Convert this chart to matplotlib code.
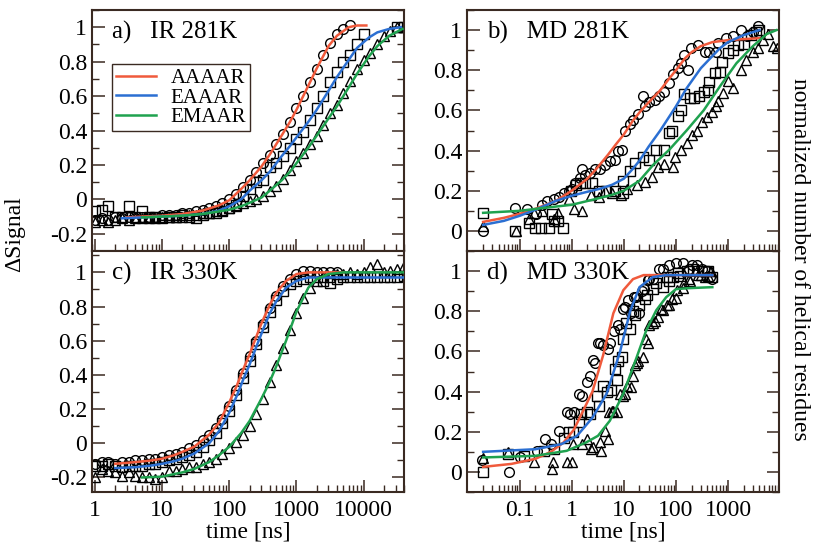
import matplotlib
matplotlib.use("Agg")
import matplotlib.pyplot as plt
from matplotlib.ticker import MultipleLocator, NullFormatter, FixedLocator, FixedFormatter, LogLocator

plt.rcParams['font.family'] = ['Liberation Serif', 'DejaVu Serif']
plt.rcParams['axes.unicode_minus'] = False

names = ["AAAAR", "EAAAR", "EMAAR"]
colors = ["#f05a3c", "#2b6fd2", "#1fa24f"]
markers = ["o", "s", "^"]

# ---------------- IR data (common time grid, ns) ----------------
ir_t = [1, 1.26, 1.58, 2, 2.5, 3.2, 4, 5, 6.3, 7.9, 10, 12.6, 15.8, 20, 25, 32, 40, 50, 63, 79,
        100, 126, 158, 200, 250, 320, 400, 500, 630, 790, 1000, 1260, 1580, 2000, 2500, 3200,
        4000, 5000, 6300, 7900, 10000, 12600, 15800, 20000, 25000, 32000, 40000]

# a) IR 281K
a_circ = [-0.12, -0.11, -0.12, -0.10, -0.11, -0.10, -0.11, -0.10, -0.10, -0.10, -0.09, -0.09,
          -0.09, -0.08, -0.08, -0.07, -0.06, -0.05, -0.04, -0.02, 0.00, 0.03, 0.07, 0.11, 0.16,
          0.21, 0.26, 0.32, 0.38, 0.45, 0.53, 0.60, 0.68, 0.76, 0.84, 0.91, 0.96, 0.99, 1.01]
a_sq = [-0.07, -0.06, -0.04, -0.10, -0.10, -0.04, -0.10, -0.07, -0.10, -0.10, -0.11, -0.10,
        -0.10, -0.09, -0.10, -0.11, -0.09, -0.08, -0.08, -0.07, -0.05, -0.03, 0.02, 0.06, 0.10,
        0.11, 0.19, 0.21, 0.25, 0.30, 0.35, 0.39, 0.46, 0.53, 0.60, 0.68, 0.74, 0.80, 0.84,
        0.90, 0.96, None, None, None, None, 1.00, 1.00]
a_tri = [-0.13, -0.12, -0.13, -0.12, -0.11, -0.12, -0.11, -0.11, -0.11, -0.11, -0.10, -0.10,
         -0.10, -0.10, -0.09, -0.09, -0.08, -0.08, -0.07, -0.06, -0.05, -0.04, -0.02, -0.01,
         0.00, 0.02, 0.05, 0.08, 0.12, 0.17, 0.22, 0.27, 0.32, 0.37, 0.43, 0.50, 0.55, 0.62,
         0.69, 0.76, 0.81, 0.85, 0.90, 0.95, 0.98, 1.00, 1.00]
a_fit_red_t = [3, 5, 10, 20, 40, 70, 100, 150, 200, 300, 400, 600, 800, 1000, 1500, 2000, 3000,
               4000, 6000, 8000, 11000]
a_fit_red = [-0.105, -0.10, -0.095, -0.085, -0.065, -0.035, -0.005, 0.06, 0.11, 0.19, 0.26,
             0.37, 0.45, 0.52, 0.66, 0.76, 0.89, 0.95, 1.0, 1.01, 1.01]
a_fit_blue_t = [2.5, 5, 10, 20, 40, 70, 100, 150, 200, 300, 400, 600, 800, 1000, 1500, 2000,
                3000, 4000, 6000, 8000, 12000, 16000, 24000, 36000]
a_fit_blue = [-0.11, -0.105, -0.10, -0.095, -0.085, -0.065, -0.04, 0.0, 0.05, 0.11, 0.16, 0.25,
              0.31, 0.36, 0.45, 0.52, 0.63, 0.71, 0.81, 0.88, 0.94, 0.97, 0.99, 1.0]
a_fit_green_t = [5, 10, 20, 40, 70, 100, 150, 200, 300, 400, 600, 800, 1000, 1500, 2000, 3000,
                 4000, 6000, 8000, 12000, 16000, 24000, 38000]
a_fit_green = [-0.105, -0.10, -0.095, -0.085, -0.07, -0.06, -0.04, -0.02, 0.01, 0.05, 0.11,
               0.16, 0.21, 0.30, 0.37, 0.47, 0.54, 0.65, 0.73, 0.83, 0.89, 0.95, 0.99]

# c) IR 330K
c_circ = [-0.12, -0.11, -0.11, -0.12, -0.11, -0.11, -0.10, -0.10, -0.09, -0.09, -0.08, -0.07,
          -0.06, -0.05, -0.03, -0.01, 0.02, 0.05, 0.09, 0.14, 0.22, 0.31, 0.41, 0.51, 0.60,
          0.70, 0.79, 0.86, 0.92, 0.96, 0.99, 1.01, 1.01, 1.00, 1.00, 1.00, 1.00]
c_sq = [-0.13, -0.13, -0.12, -0.13, -0.14, -0.13, -0.13, -0.13, -0.12, -0.12, -0.11, -0.10,
        -0.09, -0.08, -0.07, -0.05, -0.02, 0.02, 0.06, 0.12, 0.19, 0.28, 0.38, 0.48, 0.58,
        0.68, 0.77, 0.84, 0.89, 0.93, 0.95, 0.96, 0.97, 0.97, 0.95, 0.94, 0.96, 0.97, 0.97,
        0.97, 0.97, 0.97, 0.97, 0.97, 0.97, 0.97, 0.98]
c_tri = [-0.20, -0.15, -0.16, -0.17, -0.19, -0.17, -0.19, -0.20, -0.20, -0.21, -0.20, -0.16,
         -0.16, -0.15, -0.14, -0.14, -0.12, -0.11, -0.09, -0.06, -0.03, 0.01, 0.05, 0.10, 0.17,
         0.26, 0.36, 0.46, 0.56, 0.66, 0.76, 0.85, 0.91, 0.95, 0.97, 0.97, 0.99, 0.99, 1.00,
         0.99, 1.00, 1.03, 1.05, 1.00, 1.01, 1.02, 1.04]
c_fit_red_t = [2, 4, 7, 10, 15, 20, 30, 50, 70, 100, 130, 160, 200, 250, 300, 400, 500, 700,
               1000, 1500, 2000, 3000, 5000]
c_fit_red = [-0.12, -0.11, -0.10, -0.09, -0.07, -0.05, -0.02, 0.05, 0.12, 0.24, 0.34, 0.43,
             0.52, 0.62, 0.70, 0.81, 0.88, 0.95, 0.99, 1.0, 1.0, 1.0, 1.0]
c_fit_blue_t = [2, 4, 7, 10, 15, 20, 30, 50, 70, 100, 130, 160, 200, 250, 300, 400, 500, 700,
                1000, 1500, 2000, 3000, 10000, 40000]
c_fit_blue = [-0.145, -0.14, -0.13, -0.12, -0.105, -0.09, -0.06, 0.0, 0.07, 0.18, 0.28, 0.37,
              0.46, 0.56, 0.64, 0.76, 0.83, 0.91, 0.95, 0.97, 0.97, 0.97, 0.97, 0.97]
c_fit_green_t = [5, 10, 20, 30, 50, 70, 100, 150, 200, 300, 400, 500, 700, 1000, 1500, 2000,
                 3000, 5000, 10000, 40000]
c_fit_green = [-0.20, -0.195, -0.17, -0.15, -0.11, -0.07, -0.02, 0.06, 0.13, 0.26, 0.36, 0.45,
               0.60, 0.77, 0.91, 0.96, 0.99, 1.0, 1.0, 1.0]

# ---------------- MD data ----------------
# b) MD 281K
b_circ_t = [0.02, 0.083, 0.14, 0.21, 0.27, 0.33, 0.45, 0.56, 0.7, 0.87, 1.0, 1.16, 1.45, 1.56,
            1.8, 2.2, 2.8, 3.5, 4.4, 5.4, 6.8, 7.8, 9.1, 10.5, 12.9, 15.3, 19, 23.6, 25, 31, 39,
            48, 60, 75, 89, 109, 126, 146, 168, 196, 263, 354, 440, 590, 640, 920, 1250, 1770,
            2300, 3000, 3750]
b_circ = [0.0, 0.116, 0.11, 0.083, 0.13, 0.15, 0.157, 0.17, 0.19, 0.2, 0.21, 0.24, 0.265, 0.31,
          0.28, 0.29, 0.31, 0.31, 0.33, 0.35, 0.355, 0.40, 0.405, 0.50, 0.53, 0.55, 0.58, 0.67,
          0.62, 0.64, 0.65, 0.67, 0.69, 0.735, 0.78, 0.81, 0.835, 0.876, 0.80, 0.91, 0.925,
          0.89, 0.89, 0.89, 0.935, 0.96, 0.97, 1.0, 0.97, 0.99, 1.02]
b_sq_t = [0.02, 0.083, 0.15, 0.2, 0.26, 0.36, 0.42, 0.45, 0.55, 0.68, 0.95, 1.2, 1.47, 1.8, 2.4,
          3.3, 4.6, 6.9, 9.5, 9.8, 12.9, 16.4, 23.6, 31, 42, 60, 75, 85, 109, 126, 146, 183,
          225, 280, 350, 410, 440, 550, 690, 750, 1000, 1250, 1550, 2050, 2800, 3500, 4000]
b_sq = [0.091, 0.0, 0.04, 0.017, 0.017, 0.017, 0.083, 0.05, 0.05, 0.017, 0.2, 0.23, 0.24, 0.24,
        0.24, 0.2, 0.2, 0.2, 0.19, 0.25, 0.3, 0.34, 0.37, 0.355, 0.405, 0.405, 0.49, 0.5, 0.57,
        0.6, 0.68, 0.66, 0.66, 0.67, 0.69, 0.70, 0.74, 0.785, 0.79, 0.84, 0.885, 0.90, 0.925,
        0.93, 0.975, 0.99, 1.0]
b_tri_t = [0.02, 0.084, 0.15, 0.19, 0.27, 0.45, 0.55, 0.88, 1.1, 1.58, 2.3, 3.3, 4.3, 6, 8.7,
           11.3, 17.7, 25, 34, 46, 60, 89, 95, 126, 160, 200, 250, 310, 390, 485, 600, 650, 800,
           1000, 1250, 1770, 2200, 3000, 3750, 4700, 5800, 7400, 8700]
b_tri = [0.025, 0.0, 0.058, 0.09, 0.10, 0.058, 0.09, 0.157, 0.107, 0.10, 0.18, 0.17, 0.2, 0.19,
         0.18, 0.207, 0.23, 0.245, 0.27, 0.32, 0.335, 0.32, 0.37, 0.405, 0.44, 0.48, 0.50, 0.54,
         0.565, 0.59, 0.62, 0.645, 0.686, 0.745, 0.71, 0.80, 0.85, 0.89, 0.91, 0.95, 0.98,
         0.92, 0.91]
b_fit_red_t = [0.02, 0.05, 0.1, 0.2, 0.5, 1, 2, 3, 5, 7, 10, 15, 20, 30, 50, 70, 100, 150, 200,
               300, 500, 1000, 2000, 4000]
b_fit_red = [0.045, 0.065, 0.085, 0.11, 0.15, 0.20, 0.26, 0.31, 0.38, 0.43, 0.48, 0.55, 0.59,
             0.64, 0.70, 0.75, 0.80, 0.86, 0.89, 0.92, 0.94, 0.95, 0.955, 0.96]
b_fit_blue_t = [0.02, 0.05, 0.1, 0.2, 0.5, 1, 2, 3.5, 6, 10, 15, 20, 30, 50, 100, 160, 300, 700,
                1000, 2000, 4000]
b_fit_blue = [0.03, 0.05, 0.075, 0.105, 0.15, 0.175, 0.195, 0.21, 0.23, 0.26, 0.31, 0.35, 0.42,
              0.50, 0.62, 0.71, 0.81, 0.91, 0.94, 0.975, 1.0]
b_fit_green_t = [0.02, 0.1, 0.3, 1, 3, 6, 10, 20, 37, 75, 160, 340, 700, 1450, 3000, 5500, 8500]
b_fit_green = [0.09, 0.10, 0.115, 0.13, 0.16, 0.18, 0.2, 0.25, 0.33, 0.405, 0.5, 0.6, 0.72,
               0.835, 0.92, 0.98, 1.0]

# d) MD 330K
d_circ_t = [0.019, 0.063, 0.1, 0.22, 0.31, 0.4, 0.56, 0.82, 0.93, 1.1, 1.37, 1.6, 1.95, 2.2,
            2.6, 2.8, 3.2, 3.5, 4, 5, 5.4, 6.5, 7.7, 8.6, 9.8, 10.5, 12, 14, 15.6, 17, 20, 22,
            24, 29, 31, 36, 47, 57, 75, 100, 137, 180, 200, 250, 310, 390, 460, 500]
d_circ = [0.06, 0.0, 0.075, 0.105, 0.163, 0.14, 0.205, 0.297, 0.29, 0.3, 0.39, 0.38, 0.447,
          0.48, 0.555, 0.54, 0.64, 0.64, 0.63, 0.61, 0.64, 0.70, 0.73, 0.71, 0.81, 0.82, 0.855,
          0.79, 0.87, 0.87, 0.79, 0.9, 0.91, 0.955, 0.96, 0.96, 1.01, 1.01, 1.03, 1.04, 1.04,
          1.01, 1.03, 1.03, 1.01, 1.0, 0.97, 0.96]
d_sq_t = [0.02, 0.06, 0.12, 0.29, 0.45, 0.7, 0.87, 1.07, 1.4, 1.5, 1.95, 2.2, 3.0, 3.3, 4.0, 4.7,
          5.8, 6.7, 7.3, 7.8, 9.1, 9.8, 11.2, 13, 15, 16.4, 20, 26, 28, 36, 42, 57, 66, 73, 89,
          110, 120, 160, 210, 260, 350, 420, 500]
d_sq = [0.0, 0.09, 0.08, 0.105, 0.113, 0.17, 0.2, 0.2, 0.25, 0.29, 0.30, 0.29, 0.38, 0.33, 0.43,
        0.40, 0.41, 0.51, 0.46, 0.55, 0.57, 0.66, 0.74, 0.71, 0.80, 0.78, 0.83, 0.86, 0.88,
        0.91, 0.94, 0.92, 0.97, 0.95, 0.97, 0.99, 0.975, 1.0, 1.01, 1.0, 1.0, 1.0, 0.97]
d_tri_t = [0.02, 0.06, 0.19, 0.41, 0.43, 0.81, 1.0, 1.07, 1.6, 1.95, 2.3, 2.6, 3.5, 3.7, 4.4,
           4.9, 5.1, 5.9, 6.3, 7.3, 8.6, 9.8, 10.5, 11.4, 13.7, 15, 16.4, 17.6, 19, 23, 27, 29,
           31, 36, 39, 45, 52, 57, 66, 73, 83, 100, 105, 137, 140, 180, 190, 260, 300, 360, 420,
           480]
d_tri = [0.07, 0.1, 0.047, 0.013, 0.047, 0.047, 0.05, 0.14, 0.14, 0.163, 0.113, 0.125, 0.15,
         0.105, 0.205, 0.163, 0.297, 0.305, 0.305, 0.297, 0.39, 0.38, 0.39, 0.43, 0.425, 0.48,
         0.53, 0.54, 0.55, 0.57, 0.66, 0.64, 0.73, 0.74, 0.75, 0.77, 0.81, 0.805, 0.83, 0.83,
         0.863, 0.865, 0.905, 0.915, 0.947, 0.963, 0.95, 0.98, 0.98, 0.97, 0.975, 1.0]
d_fit_red_t = [0.02, 0.07, 0.2, 0.4, 0.7, 1.1, 1.7, 2.5, 4, 6.3, 9.8, 15, 24, 50, 500]
d_fit_red = [0.025, 0.04, 0.065, 0.10, 0.147, 0.21, 0.31, 0.40, 0.58, 0.79, 0.905, 0.96, 0.98,
             0.98, 0.98]
d_fit_blue_t = [0.02, 0.2, 0.63, 1.27, 2.5, 4.7, 8.5, 13.2, 20, 36, 65, 500]
d_fit_blue = [0.10, 0.113, 0.138, 0.18, 0.27, 0.39, 0.60, 0.80, 0.92, 0.97, 0.98, 0.98]
d_fit_green_t = [0.02, 0.2, 0.8, 1.9, 3.2, 5.4, 9.8, 17.6, 27, 42, 65, 100, 175, 500]
d_fit_green = [0.072, 0.08, 0.105, 0.147, 0.18, 0.255, 0.39, 0.57, 0.705, 0.805, 0.87, 0.91,
               0.915, 0.92]


def pts(t, y):
    # drop missing entries
    pairs = [(a, b) for a, b in zip(t, y) if b is not None]
    return [p[0] for p in pairs], [p[1] for p in pairs]


def draw(ax, scatters, fits):
    for (t, y), m in zip(scatters, markers):
        t, y = pts(t, y)
        ax.plot(t, y, linestyle="none", marker=m, ms=7, mfc="none", mec="black", mew=1.0,
                zorder=2)
    for (t, y), c, n in zip(fits, colors, names):
        ax.plot(t, y, color=c, lw=1.8, label=n, zorder=3)


def style(ax, xlim, ylim, xticks, show_xlabels):
    ax.set_xscale("log")
    ax.set_xlim(*xlim)
    ax.set_ylim(*ylim)
    ax.xaxis.set_major_locator(FixedLocator(xticks))
    ax.xaxis.set_minor_locator(LogLocator(base=10, subs=range(2, 10), numticks=30))
    ax.xaxis.set_minor_formatter(NullFormatter())
    if show_xlabels:
        ax.xaxis.set_major_formatter(FixedFormatter(["%g" % v for v in xticks]))
        ax.set_xlabel("time [ns]", fontsize=17, labelpad=0)
    else:
        ax.xaxis.set_major_formatter(NullFormatter())
    ax.yaxis.set_major_locator(MultipleLocator(0.2))
    ax.yaxis.set_minor_locator(MultipleLocator(0.1))
    ax.yaxis.set_major_formatter(plt.FuncFormatter(lambda v, p: "%g" % round(v, 2)))
    ax.tick_params(which="both", direction="in", left=True, right=True, top=False,
                   bottom=True, labelsize=17, color="#3a2a22")
    ax.tick_params(which="major", length=9, width=1.1)
    ax.tick_params(which="minor", length=5, width=1.0)
    ax.tick_params(axis="x", which="major", pad=6)
    for s in ax.spines.values():
        s.set_color("#3a2a22")
        s.set_linewidth(1.5)


fig = plt.figure(figsize=(8.16, 5.44), dpi=100)
W, H = 816, 544
ax_a = fig.add_axes([92 / W, 1 - 251 / H, 312 / W, 241 / H])
ax_b = fig.add_axes([467 / W, 1 - 251 / H, 312 / W, 241 / H])
ax_c = fig.add_axes([92 / W, 1 - 492 / H, 312 / W, 241 / H])
ax_d = fig.add_axes([467 / W, 1 - 492 / H, 312 / W, 241 / H])

draw(ax_a, [(ir_t, a_circ), (ir_t, a_sq), (ir_t, a_tri)],
     [(a_fit_red_t, a_fit_red), (a_fit_blue_t, a_fit_blue), (a_fit_green_t, a_fit_green)])
draw(ax_c, [(ir_t, c_circ), (ir_t, c_sq), (ir_t, c_tri)],
     [(c_fit_red_t, c_fit_red), (c_fit_blue_t, c_fit_blue), (c_fit_green_t, c_fit_green)])
draw(ax_b, [(b_circ_t, b_circ), (b_sq_t, b_sq), (b_tri_t, b_tri)],
     [(b_fit_red_t, b_fit_red), (b_fit_blue_t, b_fit_blue), (b_fit_green_t, b_fit_green)])
draw(ax_d, [(d_circ_t, d_circ), (d_sq_t, d_sq), (d_tri_t, d_tri)],
     [(d_fit_red_t, d_fit_red), (d_fit_blue_t, d_fit_blue), (d_fit_green_t, d_fit_green)])

ir_ticks = [1, 10, 100, 1000, 10000]
md_ticks = [0.1, 1, 10, 100, 1000]
style(ax_a, (0.9, 40000), (-0.3, 1.1), ir_ticks, False)
style(ax_c, (0.9, 40000), (-0.285, 1.125), ir_ticks, True)
style(ax_b, (0.0098, 9500), (-0.1, 1.1), md_ticks, False)
style(ax_d, (0.0098, 9500), (-0.1, 1.1), md_ticks, True)

# panel titles
for ax, txt in [(ax_a, "a)   IR 281K"), (ax_b, "b)   MD 281K"),
                (ax_c, "c)   IR 330K"), (ax_d, "d)   MD 330K")]:
    ax.text(0.065, 0.955, txt, transform=ax.transAxes, fontsize=18, va="top", ha="left")

leg = ax_a.legend(loc="upper left", bbox_to_anchor=(0.064, 0.775), borderaxespad=0,
                  fontsize=15, handlelength=1.9, handletextpad=0.7, borderpad=0.2,
                  labelspacing=0.0, fancybox=False, framealpha=1)
leg.get_frame().set_edgecolor("#3a2a22")
leg.get_frame().set_linewidth(1.0)

fig.text(15 / W, 1 - 234 / H, "\u0394Signal", rotation=90, fontsize=17, ha="center",
         va="center")
fig.text(800 / W, 1 - 259 / H, "normalized number of helical residues", rotation=270,
         fontsize=17, ha="center", va="center")

fig.savefig("out.png", dpi=100)
